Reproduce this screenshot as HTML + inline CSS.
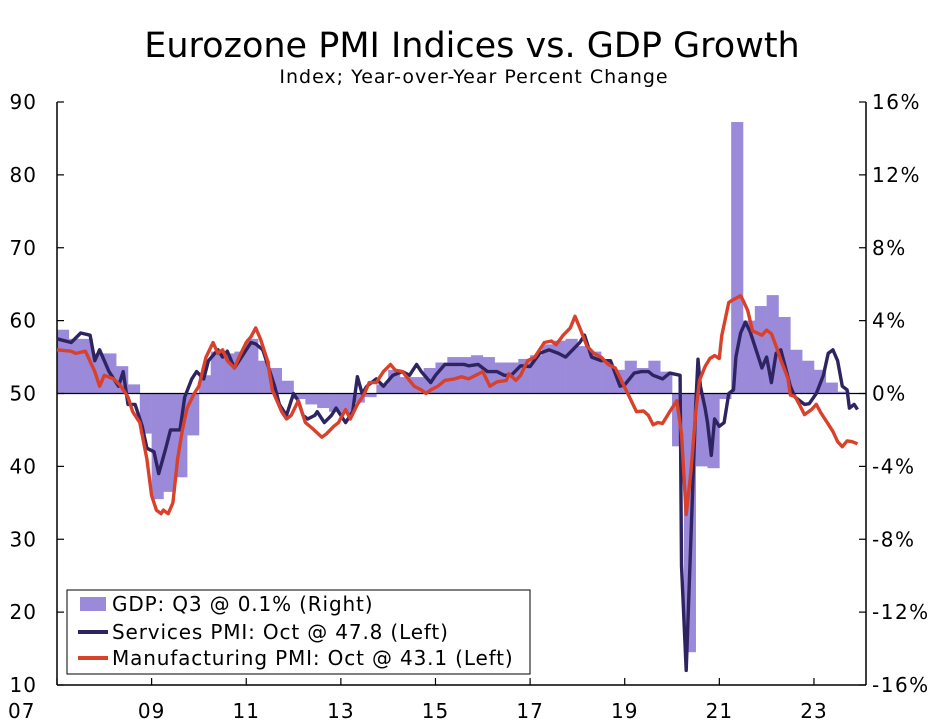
<!DOCTYPE html>
<html><head><meta charset="utf-8"><style>
html,body{margin:0;padding:0;background:#fff;width:949px;height:727px;overflow:hidden}
svg{font-family:"DejaVu Sans","Liberation Sans",sans-serif}
</style></head><body>
<svg id="chart" width="949" height="727" xmlns="http://www.w3.org/2000/svg">
<text x="472" y="57" text-anchor="middle" font-size="35" fill="#000">Eurozone PMI Indices vs. GDP Growth</text>
<text x="474" y="83" text-anchor="middle" font-size="19" letter-spacing="1" fill="#000">Index; Year-over-Year Percent Change</text>
<g id="bars"></g><g id="axes"></g><g id="lines"></g>
<g>
<rect x="67" y="590" width="463" height="84" fill="#fff" stroke="#000" stroke-width="1"/>
<rect x="80" y="597" width="26" height="14" fill="#9b8ad9"/>
<text x="112" y="611" font-size="20" letter-spacing="0.85">GDP: Q3 @ 0.1% (Right)</text>
<line x1="78" y1="632" x2="108" y2="632" stroke="#2e2462" stroke-width="4"/>
<text x="112" y="639" font-size="20" letter-spacing="0.85">Services PMI: Oct @ 47.8 (Left)</text>
<line x1="78" y1="658" x2="108" y2="658" stroke="#d9412b" stroke-width="4"/>
<text x="112" y="665" font-size="20" letter-spacing="0.85">Manufacturing PMI: Oct @ 43.1 (Left)</text>
</g>
</svg>
<script>
const gdpStart = 2007;
const gdpValues = [3.5,3.0,3.0,2.2, 2.2,1.5,0.5,-2.2, -5.8,-5.4,-4.6,-2.3, 1.0,2.3,2.2,2.3, 3.0,1.8,1.4,0.7, -0.3,-0.6,-0.8,-1.0, -1.1,-0.5,-0.2,0.5, 1.3,0.9,0.9,1.4, 1.7,2.0,2.0,2.1, 2.0,1.7,1.7,1.9, 2.1,2.7,2.9,3.0, 2.6,2.3,1.7,1.3, 1.8,1.4,1.8,1.2, -2.9,-14.2,-4.0,-4.1, -0.3,14.9,4.0,4.8, 5.4,4.2,2.4,1.8, 1.3,0.6,0.1];
const servicesDates = [2007.0,2007.3,2007.5,2007.7,2007.8,2007.9,2008.1,2008.2,2008.3,2008.4,2008.5,2008.65,2008.8,2008.9,2009.05,2009.15,2009.3,2009.4,2009.6,2009.7,2009.85,2009.95,2010.1,2010.2,2010.4,2010.5,2010.6,2010.75,2010.9,2011.1,2011.2,2011.35,2011.5,2011.6,2011.7,2011.85,2012.0,2012.1,2012.2,2012.3,2012.45,2012.5,2012.65,2012.8,2012.9,2013.0,2013.1,2013.25,2013.3,2013.35,2013.45,2013.55,2013.75,2013.9,2014.1,2014.3,2014.45,2014.6,2014.7,2014.9,2015.0,2015.2,2015.4,2015.6,2015.7,2015.9,2016.1,2016.3,2016.45,2016.6,2016.8,2017.0,2017.2,2017.4,2017.6,2017.75,2017.9,2018.05,2018.15,2018.3,2018.5,2018.7,2018.9,2019.0,2019.2,2019.35,2019.5,2019.6,2019.8,2019.95,2020.1,2020.17,2020.2,2020.3,2020.4,2020.5,2020.55,2020.6,2020.7,2020.75,2020.83,2020.9,2021.0,2021.1,2021.2,2021.3,2021.35,2021.45,2021.55,2021.65,2021.8,2021.9,2022.0,2022.1,2022.2,2022.3,2022.4,2022.5,2022.6,2022.8,2022.9,2023.05,2023.2,2023.3,2023.4,2023.5,2023.6,2023.7,2023.75,2023.85,2023.92];
const servicesValues = [57.5,57,58.3,58,54.5,56,53,52,51,53,48.5,48.5,45.5,42.5,42,39,42.5,45,45,49.5,52,53,52,54.5,56,55,55.8,53.5,55,57,56.8,56,53,51,48.5,47,50,49,47,46.5,47,47.5,46,47,48,47,46,47.5,50,52.3,50,51,52,51,52.5,53,52.5,54,53,51.5,52.5,54,54,54,53.8,54,53,53,52.5,52.5,53.8,53.7,55.5,56,55.5,55,56,57,58,55,54.5,54.5,51,51.2,52.8,53,53,52.5,52,52.8,52.6,52.5,26.4,12,30.5,48.3,54.7,51,48,46,41.5,46.5,45.5,46,50,50.5,55,58.3,59.8,58.5,55.5,53.5,55,51.5,55.5,56,53.5,51,49.5,48.5,48.6,50,52.5,55.5,56,54.5,51,50.5,48,48.5,47.8];
const mfgDates = [2007.0,2007.3,2007.4,2007.6,2007.8,2007.9,2008.0,2008.2,2008.35,2008.5,2008.6,2008.75,2008.9,2009.0,2009.1,2009.2,2009.25,2009.35,2009.45,2009.55,2009.65,2009.75,2009.9,2010.0,2010.15,2010.3,2010.4,2010.5,2010.6,2010.75,2010.85,2011.0,2011.1,2011.2,2011.3,2011.45,2011.55,2011.65,2011.75,2011.85,2011.95,2012.1,2012.25,2012.4,2012.6,2012.7,2012.85,2012.95,2013.1,2013.2,2013.35,2013.5,2013.6,2013.75,2013.9,2014.05,2014.15,2014.3,2014.45,2014.55,2014.7,2014.8,2014.9,2015.05,2015.2,2015.4,2015.55,2015.7,2015.85,2016.0,2016.15,2016.3,2016.5,2016.55,2016.7,2016.8,2016.95,2017.1,2017.3,2017.45,2017.55,2017.7,2017.85,2017.95,2018.05,2018.2,2018.35,2018.5,2018.65,2018.8,2018.95,2019.1,2019.25,2019.4,2019.5,2019.6,2019.7,2019.8,2019.95,2020.1,2020.2,2020.3,2020.4,2020.5,2020.58,2020.7,2020.8,2020.9,2021.0,2021.05,2021.2,2021.3,2021.45,2021.5,2021.6,2021.7,2021.8,2021.9,2022.0,2022.1,2022.2,2022.3,2022.45,2022.5,2022.6,2022.7,2022.8,2022.95,2023.05,2023.15,2023.3,2023.4,2023.5,2023.6,2023.7,2023.8,2023.92];
const mfgValues = [56,55.8,55.5,55.8,53,51,52.5,52,51,49.5,47.5,46,41,36,34,33.5,34,33.5,35,41,45,48,50,51,55,57,55.5,56,54.5,53.5,55,57,57.8,59,57.5,54.5,50.5,49,47.5,46.5,47,49,46,45.2,44,44.5,45.5,46,47.8,46.5,48.5,50,51.5,51.5,53,54,53.2,53,51.8,51,50.5,50,50.5,51,51.8,52,52.3,52,52.5,53,51,51.6,51.8,52.7,51.8,52.5,54.5,55,57,57.2,56.7,58,59,60.6,59,56.5,55.5,55,54,53.5,51.5,49.5,47.5,47.6,47,45.7,46,45.9,47.5,49,44.5,33.4,39.4,47.4,51.8,53.7,54.8,55.2,54.8,57.9,62.5,62.9,63.4,62.8,61.4,58.6,58.3,58,58.7,58.2,56.5,54.6,52.1,49.8,49.6,48.4,47.1,47.8,48.5,47.3,45.8,44.8,43.4,42.7,43.5,43.4,43.1];
const leftTicks = [10,20,30,40,50,60,70,80,90];
const rightTicks = ["-16%","-12%","-8%","-4%","0%","4%","8%","12%","16%"];
const rightTickValues = [-16,-12,-8,-4,0,4,8,12,16];
const xTickLabels = ["07","09","11","13","15","17","19","21","23"];
const xTickYears = [2007,2009,2011,2013,2015,2017,2019,2021,2023];

const L=57,R=866,T=102,B=685;
const x=y=>L+(y-2007)*(R-L)/17.1;
const yl=v=>B-(v-10)*(B-T)/80;
const yr=p=>B-(p+16)*(B-T)/32;
const NS="http://www.w3.org/2000/svg";
function mk(tag,attrs,parent){const e=document.createElementNS(NS,tag);for(const k in attrs)e.setAttribute(k,attrs[k]);parent.appendChild(e);return e;}
const bars=document.getElementById('bars'),axes=document.getElementById('axes'),lines=document.getElementById('lines');
gdpValues.forEach((v,i)=>{
  const t0=gdpStart+i/4,x0=x(t0),x1=x(t0+0.25);
  const e=mk('rect',{x:x0,y:Math.min(yr(v),yr(0)),width:x1-x0+0.3,height:Math.abs(yr(v)-yr(0)),fill:'#9b8ad9'},bars);
  
  
});
let e=mk('line',{x1:L,y1:T,x2:L,y2:B,stroke:'#000','stroke-width':1.5},axes);

e=mk('line',{x1:R,y1:T,x2:R,y2:B,stroke:'#000','stroke-width':1.5},axes);

e=mk('line',{x1:L,y1:B,x2:R,y2:B,stroke:'#000','stroke-width':1.5},axes);

e=mk('line',{x1:L,y1:yl(50),x2:R,y2:yl(50),stroke:'#000','stroke-width':1.2},axes);

leftTicks.forEach(v=>{
  mk('line',{x1:L,y1:yl(v),x2:L+7,y2:yl(v),stroke:'#000','stroke-width':1.2},axes);
  const t=mk('text',{x:L-20,y:yl(v)+7,'text-anchor':'end','font-size':20,'letter-spacing':1},axes);t.textContent=v;
  
});
rightTickValues.forEach((p,i)=>{
  mk('line',{x1:R-7,y1:yr(p),x2:R,y2:yr(p),stroke:'#000','stroke-width':1.2},axes);
  const t=mk('text',{x:R+6,y:yr(p)+7,'font-size':20,'letter-spacing':1.5},axes);t.textContent=rightTicks[i];
  
});
xTickYears.forEach((yv,i)=>{
  mk('line',{x1:x(yv),y1:B-7,x2:x(yv),y2:B,stroke:'#000','stroke-width':1.2},axes);
  const first=i===0;
  const t=mk('text',{x:first?8:x(yv),y:B+33,'text-anchor':first?'start':'middle','font-size':20,'letter-spacing':1},axes);t.textContent=xTickLabels[i];
  
});
function path(d,v){return d.map((t,i)=>(i?'L':'M')+x(t).toFixed(1)+' '+yl(v[i]).toFixed(1)).join(' ');}
e=mk('path',{d:path(servicesDates,servicesValues),fill:'none',stroke:'#2e2462','stroke-width':3.4,'stroke-linejoin':'round'},lines);

e=mk('path',{d:path(mfgDates,mfgValues),fill:'none',stroke:'#d9412b','stroke-width':3.4,'stroke-linejoin':'round'},lines);

</script>
</body></html>
